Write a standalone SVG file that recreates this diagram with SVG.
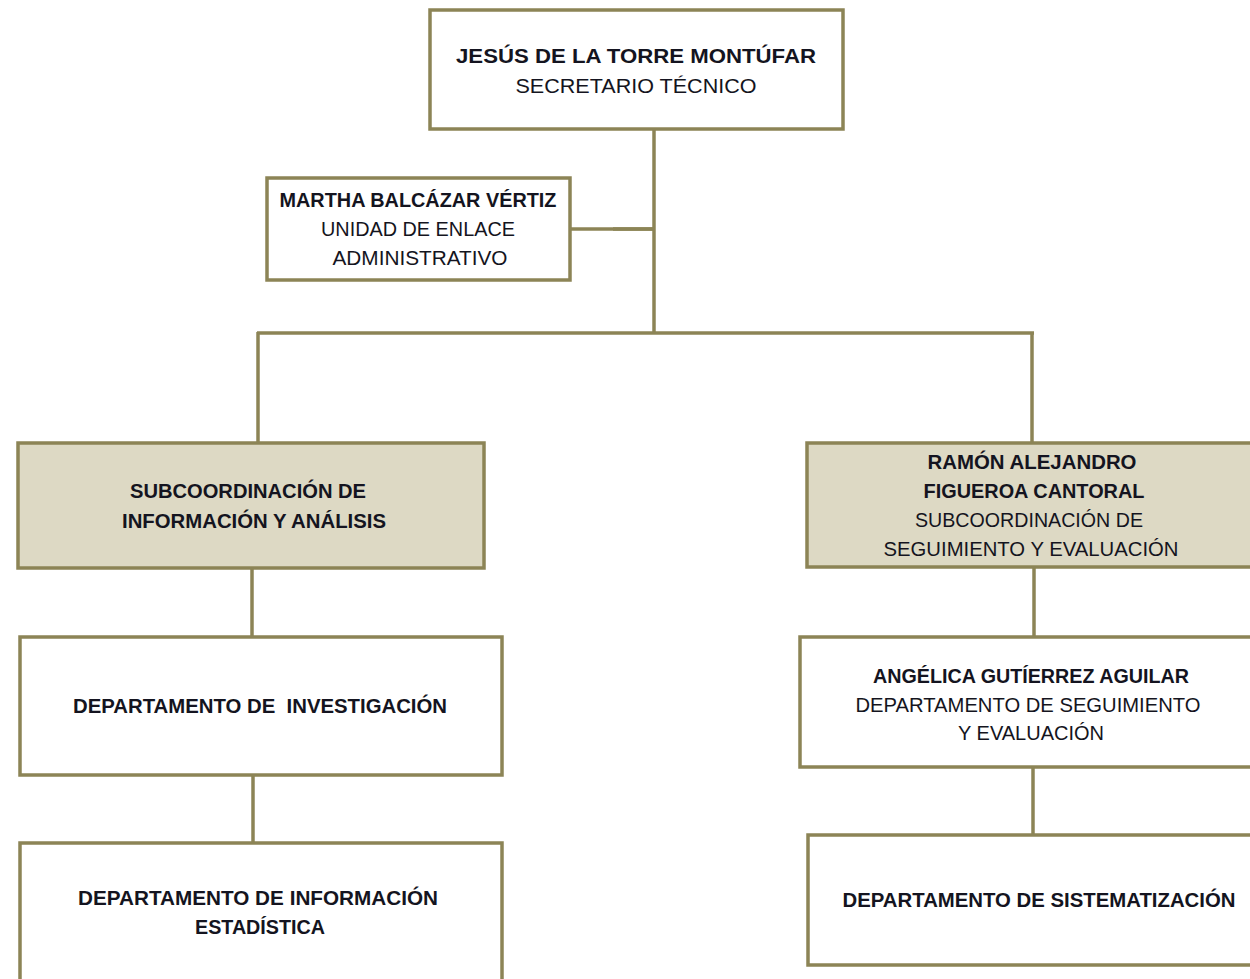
<svg xmlns="http://www.w3.org/2000/svg" width="1250" height="979" viewBox="0 0 1250 979">
<style>
.box{fill:#ffffff;stroke:#8c8456;stroke-width:3.5}
.sub{fill:#ddd9c4;stroke:#8c8456;stroke-width:3.5}
.c{fill:none;stroke:#8c8456;stroke-width:3.5}
text{font-family:"Liberation Sans",Arial,sans-serif;font-size:21px;fill:#141420;text-anchor:middle}
.b{font-weight:bold}
</style>
<rect width="1250" height="979" fill="#ffffff"/>
<g id="connectors">
<line class="c" x1="654" y1="128" x2="654" y2="334"/>
<line class="c" x1="570" y1="229" x2="654" y2="229"/>
<line class="c" x1="613" y1="229" x2="654" y2="229" stroke-width="5"/>
<line class="c" x1="257" y1="333" x2="1034" y2="333"/>
<line class="c" x1="258" y1="332" x2="258" y2="443"/>
<line class="c" x1="1032" y1="332" x2="1032" y2="443"/>
<line class="c" x1="252" y1="568" x2="252" y2="637"/>
<line class="c" x1="253" y1="775" x2="253" y2="843"/>
<line class="c" x1="1034" y1="567" x2="1034" y2="637"/>
<line class="c" x1="1033" y1="767" x2="1033" y2="835"/>
</g>
<g id="n-secretario">
<rect class="box" x="430" y="10" width="413" height="119"/>
<text class="b" x="636" y="63" textLength="360" lengthAdjust="spacingAndGlyphs">JESÚS DE LA TORRE MONTÚFAR</text>
<text x="636" y="93" textLength="241" lengthAdjust="spacingAndGlyphs">SECRETARIO TÉCNICO</text>
</g>
<g id="n-enlace">
<rect class="box" x="267" y="178" width="303" height="102"/>
<text class="b" x="418" y="207" textLength="277" lengthAdjust="spacingAndGlyphs">MARTHA BALCÁZAR VÉRTIZ</text>
<text x="418" y="236" textLength="194" lengthAdjust="spacingAndGlyphs">UNIDAD DE ENLACE</text>
<text x="420" y="265" textLength="175" lengthAdjust="spacingAndGlyphs">ADMINISTRATIVO</text>
</g>
<g id="n-sub-info">
<rect class="sub" x="18" y="443" width="466" height="125"/>
<text class="b" x="248" y="498" textLength="236" lengthAdjust="spacingAndGlyphs">SUBCOORDINACIÓN DE</text>
<text class="b" x="254" y="528" textLength="264" lengthAdjust="spacingAndGlyphs">INFORMACIÓN Y ANÁLISIS</text>
</g>
<g id="n-sub-seg">
<rect class="sub" x="807" y="443" width="450" height="124"/>
<text class="b" x="1032" y="469" textLength="209" lengthAdjust="spacingAndGlyphs">RAMÓN ALEJANDRO</text>
<text class="b" x="1034" y="498" textLength="221" lengthAdjust="spacingAndGlyphs">FIGUEROA CANTORAL</text>
<text x="1029" y="527" textLength="228" lengthAdjust="spacingAndGlyphs">SUBCOORDINACIÓN DE</text>
<text x="1031" y="556" textLength="295" lengthAdjust="spacingAndGlyphs">SEGUIMIENTO Y EVALUACIÓN</text>
</g>
<g id="n-dep-inv">
<rect class="box" x="20" y="637" width="482" height="138"/>
<text class="b" x="260" y="713" textLength="374" lengthAdjust="spacingAndGlyphs" xml:space="preserve">DEPARTAMENTO DE  INVESTIGACIÓN</text>
</g>
<g id="n-dep-est">
<rect class="box" x="20" y="843" width="482" height="145"/>
<text class="b" x="258" y="905" textLength="360" lengthAdjust="spacingAndGlyphs">DEPARTAMENTO DE INFORMACIÓN</text>
<text class="b" x="260" y="934" textLength="130" lengthAdjust="spacingAndGlyphs">ESTADÍSTICA</text>
</g>
<g id="n-dep-seg">
<rect class="box" x="800" y="637" width="460" height="130"/>
<text class="b" x="1031" y="683" textLength="316" lengthAdjust="spacingAndGlyphs">ANGÉLICA GUTÍERREZ AGUILAR</text>
<text x="1028" y="712" textLength="345" lengthAdjust="spacingAndGlyphs">DEPARTAMENTO DE SEGUIMIENTO</text>
<text x="1031" y="740" textLength="146" lengthAdjust="spacingAndGlyphs">Y EVALUACIÓN</text>
</g>
<g id="n-dep-sis">
<rect class="box" x="808" y="835" width="452" height="130"/>
<text class="b" x="1039" y="907" textLength="393" lengthAdjust="spacingAndGlyphs">DEPARTAMENTO DE SISTEMATIZACIÓN</text>
</g>
</svg>
